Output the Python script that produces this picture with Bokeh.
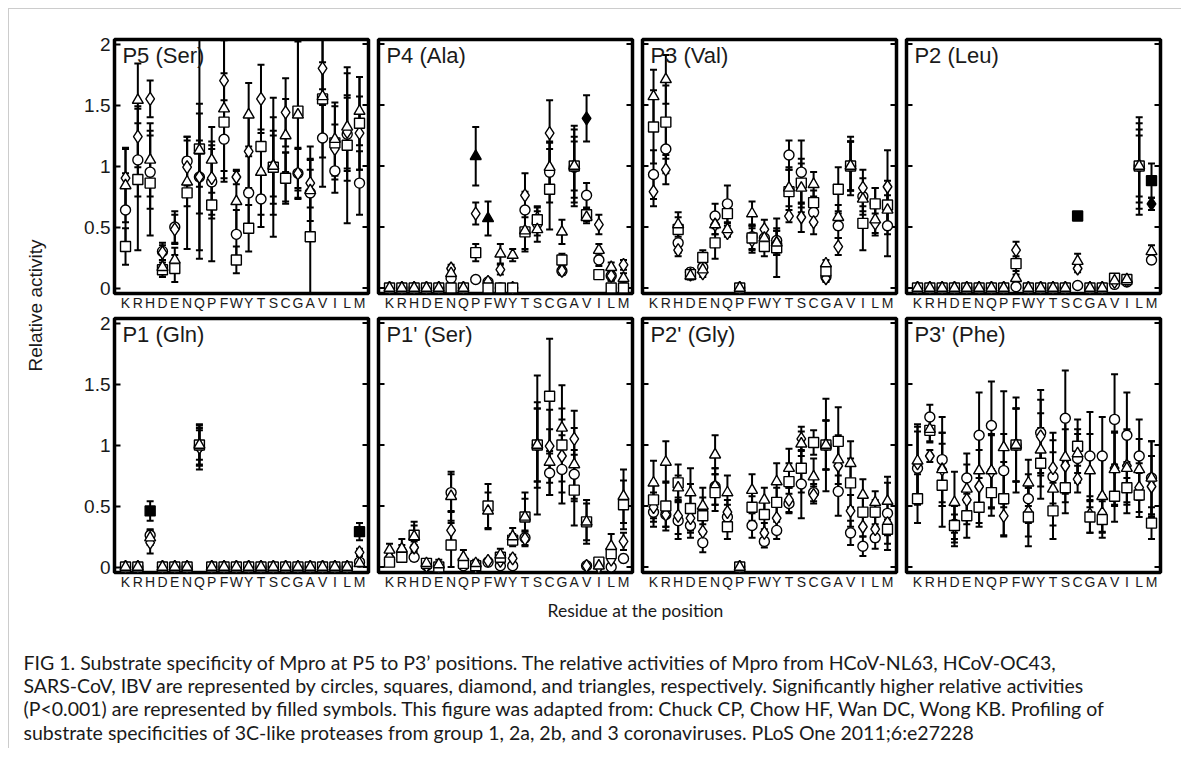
import math
from bokeh.plotting import figure
from bokeh.models import ColumnDataSource, Range1d, FixedTicker, Label
from bokeh.layouts import row, column
from bokeh.embed import file_html
from bokeh.resources import INLINE

# ---------------- data ----------------
residues = ["K", "R", "H", "D", "E", "N", "Q", "P", "F", "W",
            "Y", "T", "S", "C", "G", "A", "V", "I", "L", "M"]
y_ticks = [0, 0.5, 1, 1.5, 2]
y_tick_labels = ["0", "0.5", "1", "1.5", "2"]
series_names = ["HCoV-NL63", "HCoV-OC43", "SARS-CoV", "IBV"]
series_markers = ["circle", "square", "diamond", "triangle"]

# P5 (Ser)
p5_nl63 = [0.64, 1.05, 0.95, 0.30, 0.50, 1.04, 0.91, 0.87, 1.22, 0.44, 0.78, 0.73, 0.99, 0.91, 0.94, 0.78, 1.23, 0.96, 1.26, 0.86]
p5_nl63_err = [0.30, 0.30, 0.30, 0.07, 0.13, 0.20, 0.60, 0.30, 0.32, 0.20, 0.30, 0.23, 0.30, 0.20, 0.21, 0.38, 0.40, 0.18, 0.30, 0.26]
p5_oc43 = [0.34, 0.89, 0.86, 0.15, 0.16, 0.78, 1.14, 0.68, 1.36, 0.23, 0.49, 1.16, 0.99, 0.90, 1.45, 0.42, 1.55, 1.19, 1.17, 1.35]
p5_oc43_err = [0.15, 0.58, 0.43, 0.06, 0.11, 0.46, 0.90, 0.46, 0.40, 0.11, 0.19, 0.40, 0.57, 0.21, 0.65, 0.55, 0.30, 0.30, 0.64, 0.38]
p5_sars = [0.90, 1.24, 1.55, 0.29, 0.48, 0.99, 0.91, 0.90, 1.70, 0.91, 1.12, 1.55, 1.00, 1.44, 0.94, 0.86, 1.80, 1.14, 1.28, 1.27]
p5_sars_err = [0.25, 0.25, 0.15, 0.06, 0.12, 0.22, 0.30, 0.30, 0.33, 0.06, 0.30, 0.28, 0.25, 0.28, 0.20, 0.20, 0.30, 0.20, 0.30, 0.30]
p5_ibv = [0.84, 1.54, 1.05, 0.17, 0.23, 0.87, 1.13, 1.05, 1.47, 0.71, 1.42, 0.95, 1.00, 1.25, 1.42, 0.80, 1.57, 1.22, 1.32, 1.45]
p5_ibv_err = [0.30, 0.30, 0.30, 0.06, 0.10, 0.20, 0.30, 0.27, 0.60, 0.25, 0.26, 0.35, 0.40, 0.30, 0.60, 0.25, 0.50, 0.30, 0.44, 0.28]
p5_filled = []

# P4 (Ala)
p4_nl63 = [0, 0, 0, 0, 0, 0.08, 0, 0.07, 0.05, 0, 0, 0.64, 0.53, 0.95, 0.14, 0.99, 0.76, 0.23, 0.10, 0]
p4_nl63_err = [0, 0, 0, 0, 0, 0.03, 0, 0.02, 0.02, 0, 0, 0.15, 0.10, 0.25, 0.03, 0.25, 0.10, 0.05, 0.04, 0]
p4_oc43 = [0, 0, 0, 0, 0, 0, 0, 0.29, 0, 0, 0, 0.46, 0.56, 0.81, 0.23, 1.00, 0.60, 0.11, 0, 0]
p4_oc43_err = [0, 0, 0, 0, 0, 0, 0, 0.07, 0, 0, 0, 0.16, 0.10, 0.33, 0.05, 0.33, 0.05, 0.03, 0, 0]
p4_sars = [0, 0, 0, 0, 0, 0.16, 0, 0.61, 0.05, 0.15, 0, 0.76, 0.57, 1.27, 0.14, 1.00, 1.39, 0.52, 0.10, 0.19]
p4_sars_err = [0, 0, 0, 0, 0, 0.03, 0, 0.09, 0.02, 0.04, 0, 0.18, 0.10, 0.27, 0.03, 0.20, 0.19, 0.08, 0.04, 0.04]
p4_ibv = [0, 0, 0, 0, 0, 0.12, 0, 1.08, 0.57, 0.28, 0.27, 0.47, 0.48, 0.99, 0.46, 1.00, 0.58, 0.31, 0.17, 0.08]
p4_ibv_err = [0, 0, 0, 0, 0, 0.03, 0, 0.24, 0.14, 0.08, 0.05, 0.15, 0.10, 0.20, 0.10, 0.30, 0.05, 0.05, 0.04, 0.04]
p4_filled = [("IBV", "P"), ("IBV", "F"), ("SARS-CoV", "V")]

# P3 (Val)
p3_nl63 = [0.93, 1.14, 0.37, 0.13, 0.17, 0.59, 0.69, 0, 0.42, 0.41, 0.39, 1.09, 0.95, 0.62, 0.09, 0.51, 1.00, 0.75, 0.69, 0.51]
p3_nl63_err = [0.20, 0.20, 0.08, 0.03, 0.03, 0.10, 0.15, 0, 0.10, 0.08, 0.10, 0.12, 0.26, 0.10, 0.03, 0.10, 0.20, 0.15, 0.13, 0.25]
p3_oc43 = [1.32, 1.36, 0.48, 0.11, 0.25, 0.37, 0.61, 0, 0.41, 0.34, 0.33, 0.79, 0.86, 0.70, 0.14, 0.81, 1.00, 0.53, 0.69, 0.68]
p3_oc43_err = [0.30, 0.30, 0.10, 0.03, 0.06, 0.13, 0.10, 0, 0.10, 0.08, 0.24, 0.20, 0.20, 0.10, 0.03, 0.18, 0.24, 0.22, 0.13, 0.20]
p3_sars = [0.79, 0.97, 0.31, 0.11, 0.12, 0.52, 0.45, 0, 0.39, 0.48, 0.37, 0.59, 0.58, 0.54, 0.08, 0.34, 1.00, 0.82, 0.53, 0.83]
p3_sars_err = [0.12, 0.12, 0.05, 0.03, 0.03, 0.08, 0.03, 0, 0.10, 0.08, 0.10, 0.05, 0.12, 0.10, 0.03, 0.07, 0.20, 0.15, 0.08, 0.30]
p3_ibv = [1.57, 1.71, 0.52, 0.10, 0.15, 0.52, 0.48, 0, 0.61, 0.41, 0.37, 0.82, 0.82, 0.85, 0.20, 0.58, 1.00, 0.73, 0.56, 0.64]
p3_ibv_err = [0.22, 0.20, 0.10, 0.03, 0.03, 0.08, 0.05, 0, 0.10, 0.08, 0.10, 0.15, 0.20, 0.10, 0.03, 0.10, 0.20, 0.10, 0.13, 0.20]
p3_filled = []

# P2 (Leu)
p2_nl63 = [0, 0, 0, 0, 0, 0, 0, 0, 0.01, 0, 0, 0, 0, 0.02, 0, 0, 0.03, 0.05, 1.00, 0.23]
p2_nl63_err = [0, 0, 0, 0, 0, 0, 0, 0, 0, 0, 0, 0, 0, 0, 0, 0, 0, 0, 0.30, 0.03]
p2_oc43 = [0, 0, 0, 0, 0, 0, 0, 0, 0.20, 0, 0, 0, 0, 0.59, 0, 0, 0.08, 0.07, 1.00, 0.88]
p2_oc43_err = [0, 0, 0, 0, 0, 0, 0, 0, 0.06, 0, 0, 0, 0, 0.02, 0, 0, 0.02, 0.01, 0.40, 0.14]
p2_sars = [0, 0, 0, 0, 0, 0, 0, 0, 0.31, 0, 0, 0, 0, 0.16, 0, 0, 0.05, 0.06, 1.00, 0.69]
p2_sars_err = [0, 0, 0, 0, 0, 0, 0, 0, 0.07, 0, 0, 0, 0, 0.03, 0, 0, 0.02, 0.01, 0.25, 0.05]
p2_ibv = [0, 0, 0, 0, 0, 0, 0, 0, 0.08, 0, 0, 0, 0, 0.22, 0, 0, 0.06, 0.07, 1.00, 0.30]
p2_ibv_err = [0, 0, 0, 0, 0, 0, 0, 0, 0.03, 0, 0, 0, 0, 0.06, 0, 0, 0.02, 0.01, 0.35, 0.05]
p2_filled = [("HCoV-OC43", "C"), ("HCoV-OC43", "M"), ("SARS-CoV", "M")]

# P1 (Gln)
p1_nl63 = [0, 0, 0.26, 0, 0, 0, 0.99, 0, 0, 0, 0, 0, 0, 0, 0, 0, 0, 0, 0, 0.04]
p1_nl63_err = [0, 0, 0.05, 0, 0, 0, 0.15, 0, 0, 0, 0, 0, 0, 0, 0, 0, 0, 0, 0, 0.02]
p1_oc43 = [0, 0, 0.46, 0, 0, 0, 1.00, 0, 0, 0, 0, 0, 0, 0, 0, 0, 0, 0, 0, 0.29]
p1_oc43_err = [0, 0, 0.08, 0, 0, 0, 0.17, 0, 0, 0, 0, 0, 0, 0, 0, 0, 0, 0, 0, 0.07]
p1_sars = [0, 0, 0.20, 0, 0, 0, 0.98, 0, 0, 0, 0, 0, 0, 0, 0, 0, 0, 0, 0, 0.12]
p1_sars_err = [0, 0, 0.09, 0, 0, 0, 0.18, 0, 0, 0, 0, 0, 0, 0, 0, 0, 0, 0, 0, 0.03]
p1_ibv = [0, 0, 0.24, 0, 0, 0, 1.00, 0, 0, 0, 0, 0, 0, 0, 0, 0, 0, 0, 0, 0.03]
p1_ibv_err = [0, 0, 0.06, 0, 0, 0, 0.12, 0, 0, 0, 0, 0, 0, 0, 0, 0, 0, 0, 0, 0.02]
p1_filled = [("HCoV-OC43", "H"), ("HCoV-OC43", "M")]

# P1' (Ser)
p1p_nl63 = [0.06, 0.11, 0.08, 0.01, 0, 0.61, 0.01, 0, 0.04, 0.01, 0.01, 0.24, 1.00, 0.77, 0.80, 0.76, 0.01, 0.03, 0, 0.07]
p1p_nl63_err = [0.02, 0.03, 0.03, 0.01, 0, 0.15, 0.01, 0, 0.02, 0.01, 0.01, 0.06, 0.30, 0.18, 0.28, 0.20, 0.02, 0.01, 0.01, 0.03]
p1p_oc43 = [0.04, 0.08, 0.26, 0.03, 0, 0.18, 0.03, 0.01, 0.50, 0.08, 0.22, 0.41, 1.00, 1.40, 1.00, 0.63, 0.37, 0.04, 0.11, 0.51]
p1p_oc43_err = [0.02, 0.03, 0.08, 0.02, 0, 0.18, 0.02, 0.01, 0.18, 0.03, 0.05, 0.20, 0.57, 0.47, 0.30, 0.29, 0.18, 0.02, 0.05, 0.20]
p1p_sars = [0.08, 0.14, 0.16, 0.01, 0, 0.30, 0.05, 0, 0.05, 0.05, 0.07, 0.23, 1.00, 0.99, 0.91, 1.05, 0.01, 0, 0.06, 0.21]
p1p_sars_err = [0.03, 0.04, 0.05, 0.01, 0, 0.15, 0.02, 0, 0.02, 0.02, 0.03, 0.06, 0.30, 0.30, 0.30, 0.23, 0.02, 0, 0.03, 0.07]
p1p_ibv = [0.14, 0.15, 0.25, 0.03, 0.02, 0.58, 0.08, 0.03, 0.46, 0.10, 0.25, 0.41, 1.00, 0.86, 1.14, 0.84, 0.37, 0.01, 0.17, 0.58]
p1p_ibv_err = [0.05, 0.08, 0.12, 0.02, 0.04, 0.20, 0.06, 0.03, 0.15, 0.05, 0.07, 0.15, 0.35, 0.27, 0.35, 0.30, 0.15, 0.02, 0.10, 0.22]
p1p_filled = []

# P2' (Gly)
p2p_nl63 = [0.45, 0.43, 0.38, 0.34, 0.20, 0.66, 0.41, 0, 0.34, 0.21, 0.30, 0.52, 0.68, 0.61, 1.00, 0.62, 0.28, 0.17, 0.24, 0.44]
p2p_nl63_err = [0.12, 0.10, 0.15, 0.10, 0.08, 0.15, 0.10, 0, 0.10, 0.05, 0.07, 0.08, 0.28, 0.07, 0.38, 0.20, 0.10, 0.08, 0.09, 0.30]
p2p_oc43 = [0.55, 0.50, 0.69, 0.48, 0.42, 0.61, 0.33, 0, 0.49, 0.43, 0.53, 0.70, 0.81, 1.02, 1.00, 1.03, 0.69, 0.45, 0.45, 0.31]
p2p_oc43_err = [0.15, 0.20, 0.15, 0.20, 0.15, 0.15, 0.10, 0, 0.13, 0.12, 0.12, 0.15, 0.20, 0.10, 0.20, 0.28, 0.20, 0.13, 0.10, 0.12]
p2p_sars = [0.49, 0.43, 0.42, 0.40, 0.29, 0.66, 0.45, 0, 0.48, 0.28, 0.40, 0.55, 1.05, 0.59, 1.00, 0.83, 0.46, 0.33, 0.31, 0.36]
p2p_sars_err = [0.12, 0.10, 0.15, 0.10, 0.10, 0.15, 0.10, 0, 0.10, 0.08, 0.10, 0.10, 0.10, 0.07, 0.20, 0.20, 0.13, 0.08, 0.10, 0.10]
p2p_ibv = [0.69, 0.86, 0.65, 0.61, 0.50, 0.92, 0.61, 0, 0.63, 0.55, 0.70, 0.81, 1.01, 0.74, 1.00, 0.88, 0.85, 0.59, 0.53, 0.54]
p2p_ibv_err = [0.18, 0.17, 0.10, 0.20, 0.15, 0.16, 0.14, 0, 0.13, 0.10, 0.15, 0.16, 0.10, 0.15, 0.20, 0.20, 0.18, 0.13, 0.09, 0.15]
p2p_filled = []

# P3' (Phe)
p3p_nl63 = [0.81, 1.23, 0.88, 0.35, 0.73, 1.08, 1.16, 0.79, 1.00, 0.56, 1.10, 0.74, 1.22, 0.89, 0.91, 0.91, 1.21, 1.08, 0.91, 0.73]
p3p_nl63_err = [0.30, 0.10, 0.35, 0.15, 0.20, 0.35, 0.36, 0.30, 0.30, 0.20, 0.35, 0.30, 0.39, 0.20, 0.36, 0.32, 0.37, 0.35, 0.30, 0.30]
p3p_oc43 = [0.56, 1.12, 0.67, 0.34, 0.42, 0.49, 0.61, 0.56, 1.00, 0.41, 0.85, 0.46, 0.65, 0.99, 0.41, 0.39, 0.58, 0.65, 0.59, 0.36]
p3p_oc43_err = [0.20, 0.10, 0.34, 0.17, 0.18, 0.16, 0.19, 0.30, 0.39, 0.24, 0.29, 0.23, 0.21, 0.22, 0.13, 0.15, 0.21, 0.21, 0.18, 0.13]
p3p_sars = [0.85, 0.91, 0.80, 0.33, 0.55, 0.66, 0.78, 0.42, 1.00, 0.45, 1.07, 0.81, 0.83, 0.72, 0.43, 0.44, 0.81, 0.83, 0.65, 0.66]
p3p_sars_err = [0.30, 0.05, 0.30, 0.10, 0.20, 0.30, 0.30, 0.17, 0.30, 0.20, 0.30, 0.29, 0.30, 0.11, 0.15, 0.15, 0.30, 0.30, 0.20, 0.25]
p3p_ibv = [0.87, 1.13, 0.80, 0.53, 0.64, 0.79, 0.79, 0.98, 1.00, 0.69, 0.96, 0.64, 0.90, 0.93, 0.79, 0.58, 0.80, 0.81, 0.80, 0.73]
p3p_ibv_err = [0.30, 0.10, 0.30, 0.25, 0.20, 0.30, 0.30, 0.46, 0.30, 0.19, 0.30, 0.30, 0.30, 0.20, 0.30, 0.30, 0.30, 0.30, 0.25, 0.30]
p3p_filled = []

panel_titles = ["P5 (Ser)", "P4 (Ala)", "P3 (Val)", "P2 (Leu)",
                "P1 (Gln)", "P1' (Ser)", "P2' (Gly)", "P3' (Phe)"]
panel_values = [
    [p5_nl63, p5_oc43, p5_sars, p5_ibv],
    [p4_nl63, p4_oc43, p4_sars, p4_ibv],
    [p3_nl63, p3_oc43, p3_sars, p3_ibv],
    [p2_nl63, p2_oc43, p2_sars, p2_ibv],
    [p1_nl63, p1_oc43, p1_sars, p1_ibv],
    [p1p_nl63, p1p_oc43, p1p_sars, p1p_ibv],
    [p2p_nl63, p2p_oc43, p2p_sars, p2p_ibv],
    [p3p_nl63, p3p_oc43, p3p_sars, p3p_ibv],
]
panel_errors = [
    [p5_nl63_err, p5_oc43_err, p5_sars_err, p5_ibv_err],
    [p4_nl63_err, p4_oc43_err, p4_sars_err, p4_ibv_err],
    [p3_nl63_err, p3_oc43_err, p3_sars_err, p3_ibv_err],
    [p2_nl63_err, p2_oc43_err, p2_sars_err, p2_ibv_err],
    [p1_nl63_err, p1_oc43_err, p1_sars_err, p1_ibv_err],
    [p1p_nl63_err, p1p_oc43_err, p1p_sars_err, p1p_ibv_err],
    [p2p_nl63_err, p2p_oc43_err, p2p_sars_err, p2p_ibv_err],
    [p3p_nl63_err, p3p_oc43_err, p3p_sars_err, p3p_ibv_err],
]
panel_filled = [p5_filled, p4_filled, p3_filled, p2_filled,
                p1_filled, p1p_filled, p2p_filled, p3p_filled]

caption_lines = [
    "FIG 1.  Substrate specificity of Mpro at P5 to P3\u2019 positions. The relative activities of Mpro from HCoV-NL63, HCoV-OC43,",
    "SARS-CoV, IBV are represented by circles, squares, diamond, and triangles, respectively. Significantly higher relative activities",
    "(P<0.001) are represented by filled symbols. This figure was adapted from: Chuck CP, Chow HF, Wan DC, Wong KB. Profiling of",
    "substrate specificities of 3C-like proteases from group 1, 2a, 2b, and 3 coronaviruses. PLoS One 2011;6:e27228",
]

# ---------------- styling / layout ----------------
FRAME_W, FRAME_H = 254, 254
X_RANGE = (0.105, 20.73)
Y_RANGE = (-0.045, 2.037)
AXIS_FONT = "Liberation Sans"
TEXT_COLOR = "#1a1a1a"
marker_size = {"circle": 10, "square": 10, "diamond": 13, "triangle": 11}
draw_order = [0, 2, 1, 3]  # circle, diamond, square, triangle

ROW_BORDERS = [(30, 20), (5, 22)]  # (top, bottom) per row


def make_panel(idx):
    r, c = divmod(idx, 4)
    p = figure(frame_width=FRAME_W, frame_height=FRAME_H,
               x_range=Range1d(*X_RANGE), y_range=Range1d(*Y_RANGE),
               output_backend="svg", toolbar_location=None,
               min_border_left=48 if c == 0 else 5,
               min_border_right=21 if c == 3 else 5,
               min_border_top=ROW_BORDERS[r][0],
               min_border_bottom=ROW_BORDERS[r][1],
               background_fill_color="white", border_fill_color="white")
    p.grid.visible = False
    p.outline_line_color = "black"
    p.outline_line_width = 3.5
    p.outline_line_alpha = 1.0

    xs = list(range(1, len(residues) + 1))
    xa = p.xaxis[0]
    xa.ticker = FixedTicker(ticks=xs)
    xa.major_label_overrides = {x: res for x, res in zip(xs, residues)}
    xa.major_tick_in = 0
    xa.major_tick_out = 0
    xa.major_tick_line_color = None
    xa.minor_tick_line_color = None
    xa.axis_line_color = None
    xa.major_label_standoff = 1
    xa.major_label_text_font = AXIS_FONT
    xa.major_label_text_font_size = "14px"
    xa.major_label_text_color = TEXT_COLOR

    ya = p.yaxis[0]
    if c == 0:
        ya.ticker = FixedTicker(ticks=y_ticks)
        ya.major_label_overrides = {t: l for t, l in zip(y_ticks, y_tick_labels)}
        ya.major_tick_in = 6
        ya.major_tick_out = 0
        ya.major_tick_line_width = 2
        ya.minor_tick_line_color = None
        ya.axis_line_color = None
        ya.major_label_standoff = 4
        ya.major_label_text_font = AXIS_FONT
        ya.major_label_text_font_size = "19px"
        ya.major_label_text_color = TEXT_COLOR
    else:
        ya.visible = False
        # inward tick marks on the left edge
        lsrc = ColumnDataSource(dict(x=[X_RANGE[0]] * len(y_ticks), y=y_ticks))
        p.ray(x="x", y="y", source=lsrc, length=6, angle=0, length_units="screen",
              line_color="black", line_width=2)
    # inward tick marks on the right edge
    rsrc = ColumnDataSource(dict(x=[X_RANGE[1]] * len(y_ticks), y=y_ticks))
    p.ray(x="x", y="y", source=rsrc, length=6, angle=math.pi, length_units="screen",
          line_color="black", line_width=2)

    vals = panel_values[idx]
    errs = panel_errors[idx]
    filled = panel_filled[idx]

    # error bars
    bx, blo, bhi = [], [], []
    for s in range(4):
        for i, (v, e) in enumerate(zip(vals[s], errs[s])):
            if e > 0:
                bx.append(xs[i])
                blo.append(v - e)
                bhi.append(v + e)
    bsrc = ColumnDataSource(dict(x=bx, lo=blo, hi=bhi))
    p.segment(x0="x", y0="lo", x1="x", y1="hi", source=bsrc,
              line_color="black", line_width=2)
    p.scatter(x="x", y="lo", source=bsrc, marker="dash", size=7,
              line_color="black", line_width=2)
    p.scatter(x="x", y="hi", source=bsrc, marker="dash", size=7,
              line_color="black", line_width=2)

    # markers
    for s in draw_order:
        name = series_names[s]
        mk = series_markers[s]
        fills = ["black" if (name, res) in filled else "white" for res in residues]
        src = ColumnDataSource(dict(x=xs, y=vals[s], fill=fills))
        p.scatter(x="x", y="y", source=src, marker=mk, size=marker_size[mk],
                  fill_color="fill", line_color="black", line_width=1.4)

    p.add_layout(Label(x=0.75, y=2.01, text=panel_titles[idx],
                       text_font=AXIS_FONT, text_font_size="22px",
                       text_baseline="top", text_align="left",
                       text_color=TEXT_COLOR))
    return p


panels = [make_panel(i) for i in range(8)]

STRIP_H = sum(t + FRAME_H + b for t, b in ROW_BORDERS)

# left strip with the shared y label
strip = figure(width=57, height=STRIP_H, x_range=Range1d(0, 57), y_range=Range1d(0, STRIP_H),
               output_backend="svg", toolbar_location=None, min_border=0)
strip.axis.visible = False
strip.grid.visible = False
strip.outline_line_color = None
strip.add_layout(Label(x=26, y=STRIP_H - 296, text="Relative activity", angle=math.pi / 2,
                       text_align="center", text_baseline="middle",
                       text_font=AXIS_FONT, text_font_size="19px", text_color=TEXT_COLOR))

# bottom: x label and caption
BOTTOM_W, BOTTOM_H = 1172, 154
bottom = figure(width=BOTTOM_W, height=BOTTOM_H, x_range=Range1d(0, BOTTOM_W),
                y_range=Range1d(0, BOTTOM_H),
                output_backend="svg", toolbar_location=None, min_border=0)
bottom.axis.visible = False
bottom.grid.visible = False
bottom.outline_line_color = None
bottom.add_layout(Label(x=626, y=138, text="Residue at the position", text_align="center",
                        text_baseline="alphabetic", text_font="Lato", text_font_size="17.5px",
                        text_color=TEXT_COLOR))
for k, line in enumerate(caption_lines):
    bottom.add_layout(Label(x=14, y=86 - 23.2 * k, text=line, text_align="left",
                            text_baseline="alphabetic", text_font="Lato",
                            text_font_size="19.5px", text_color=TEXT_COLOR))

grid = column(row(*panels[:4]), row(*panels[4:]))
layout = column(row(strip, grid), bottom,
                styles={"margin-left": "8px", "margin-top": "8px",
                        "border-top": "1px solid #cccccc", "border-left": "1px solid #cccccc"})

open("out.html", "w").write(file_html(layout, INLINE))
